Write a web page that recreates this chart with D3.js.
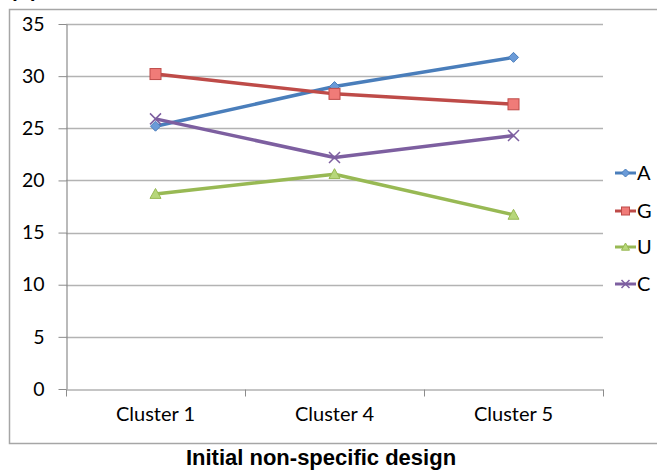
<!DOCTYPE html>
<html><head><meta charset="utf-8">
<script src="https://cdn.jsdelivr.net/npm/d3@7"></script>
<style>body{margin:0;background:#fff}svg{display:block}</style>
</head><body>
<svg id="c" width="657" height="470"></svg>
<script>
const categories = ["Cluster 1", "Cluster 4", "Cluster 5"];
const seriesNames = ["A", "G", "U", "C"];
const valuesA = [25.2, 29.0, 31.8];
const valuesG = [30.2, 28.3, 27.3];
const valuesU = [18.7, 20.6, 16.7];
const valuesC = [25.9, 22.2, 24.3];
const yTicks = [0, 5, 10, 15, 20, 25, 30, 35];
const colors = ["#4A7EBB", "#BE4B48", "#98B954", "#7D5FA0"];
const markerFill = ["#6B9BD8", "#F07B78", "#B7D77A", "#9B7FC0"];
const markers = ["diamond", "square", "triangle", "x"];
const title = "Initial non-specific design";
const panelLabel = "(A)";

const allSeries = [valuesA, valuesG, valuesU, valuesC];
const svg = d3.select("#c");
const font = "Lato, 'Open Sans', sans-serif";

// panel label (cut off at top, as in the reference)
svg.append("text").attr("x", 10).attr("y", -3).attr("font-family","Liberation Sans, Arial").attr("font-weight","bold").attr("font-size", 20).text(panelLabel);

// outer box
svg.append("rect").attr("x", 9.5).attr("y", 9.5).attr("width", 660).attr("height", 434).attr("fill","none").attr("stroke","#a6a6a6").attr("stroke-width",1.5);

const x = d3.scaleBand().domain(categories).range([66, 603]);
const y = d3.scaleLinear().domain([0, 35]).range([389, 24]);

// gridlines
svg.append("g").selectAll("line").data(yTicks.filter(d=>d>0)).join("line")
  .attr("x1", 66).attr("x2", 603).attr("y1", d=>Math.round(y(d))+0.5).attr("y2", d=>Math.round(y(d))+0.5)
  .attr("stroke","#b3b3b3").attr("stroke-width",1.3);

// y axis
const ya = svg.append("g").attr("transform","translate(66.5,0)")
  .call(d3.axisLeft(y).tickValues(yTicks).tickSize(8).tickPadding(14).tickSizeOuter(0));
ya.select(".domain").attr("stroke","#8c8c8c").attr("stroke-width",1.2);
ya.selectAll(".tick line").attr("stroke","#8c8c8c");
ya.selectAll(".tick text").attr("font-family",font).attr("font-size",19.5).attr("fill","#000");

// x axis
const xa = svg.append("g").attr("transform","translate(0,389.5)")
  .call(d3.axisBottom(x).tickSize(0).tickPadding(17));
xa.select(".domain").attr("stroke","#8c8c8c").attr("stroke-width",1.2);
xa.selectAll(".tick text").attr("font-family",font).attr("font-size",20).attr("fill","#000");
// x tick marks at band boundaries
const bounds = categories.map(c=>x(c)).concat([x(categories[categories.length-1])+x.bandwidth()]);
xa.append("g").selectAll("line").data(bounds).join("line")
  .attr("x1",d=>Math.round(d)+0.5).attr("x2",d=>Math.round(d)+0.5).attr("y1",0).attr("y2",7)
  .attr("stroke","#8c8c8c");

function drawMarker(g, type, cx, cy, i, s) {
  if (type === "diamond") {
    g.append("path").attr("d", `M${cx},${cy-s}L${cx+s},${cy}L${cx},${cy+s}L${cx-s},${cy}Z`)
      .attr("fill", markerFill[i]).attr("stroke", colors[i]).attr("stroke-width",1);
  } else if (type === "square") {
    g.append("rect").attr("x", cx-s).attr("y", cy-s).attr("width", 2*s).attr("height", 2*s)
      .attr("fill", markerFill[i]).attr("stroke", colors[i]).attr("stroke-width",1);
  } else if (type === "triangle") {
    g.append("path").attr("d", `M${cx},${cy-s}L${cx+s},${cy+s*0.8}L${cx-s},${cy+s*0.8}Z`)
      .attr("fill", markerFill[i]).attr("stroke", colors[i]).attr("stroke-width",1);
  } else {
    g.append("path").attr("d", `M${cx-s},${cy-s}L${cx+s},${cy+s}M${cx-s},${cy+s}L${cx+s},${cy-s}`)
      .attr("stroke", colors[i]).attr("stroke-width",1.5).attr("fill","none");
  }
}

const line = d3.line().x((d,j)=>x(categories[j])+x.bandwidth()/2).y(d=>y(d));
allSeries.forEach((vals, i) => {
  const g = svg.append("g");
  g.append("path").datum(vals).attr("d", line).attr("fill","none").attr("stroke", colors[i]).attr("stroke-width",3.5).attr("stroke-linejoin","round");
  vals.forEach((v, j) => drawMarker(g, markers[i], x(categories[j])+x.bandwidth()/2, y(v), i, markers[i]==="diamond"?5:5.5));
});

// legend
const legY = [173, 211, 247, 284];
seriesNames.forEach((n, i) => {
  const g = svg.append("g");
  g.append("line").attr("x1", 615).attr("x2", 636).attr("y1", legY[i]).attr("y2", legY[i]).attr("stroke", colors[i]).attr("stroke-width",3);
  drawMarker(g, markers[i], 625.5, legY[i], i, 4);
  g.append("text").attr("x", 637).attr("y", legY[i]).attr("dy","0.35em").attr("font-family",font).attr("font-size",20).text(n);
});

// title
svg.append("text").attr("x", 321).attr("y", 465).attr("text-anchor","middle")
  .attr("font-family","'Liberation Sans', Arial, sans-serif").attr("font-weight","bold").attr("font-size",22).text(title);
</script>
</body></html>
